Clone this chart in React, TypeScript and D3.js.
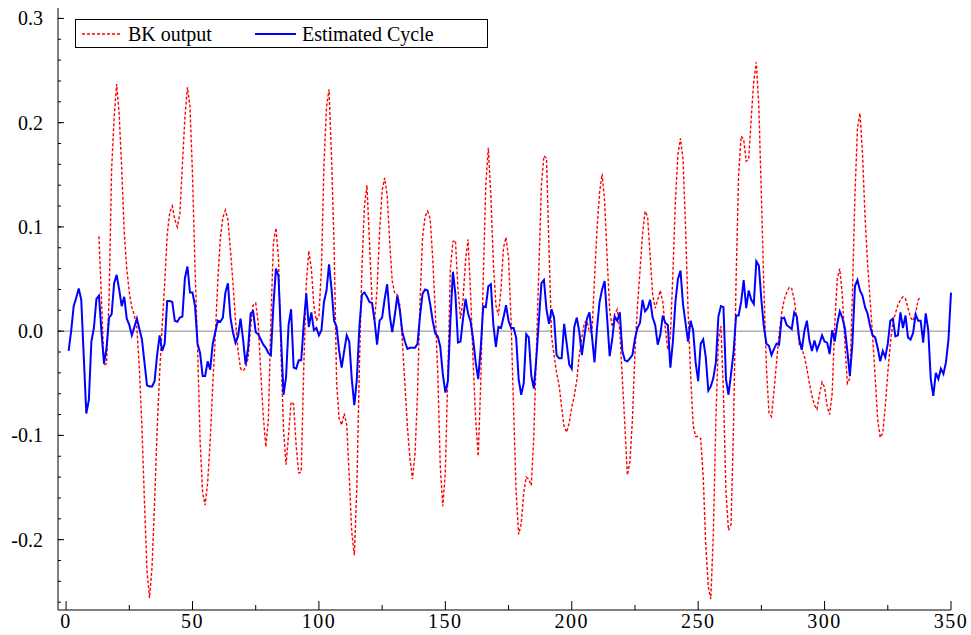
import React from "react";
import * as d3 from "d3";

// Estimated cycle: one value per period, starting at period 1
const cycleStart = 1;
const estimatedCycle = [
  -0.019, 0.000, 0.024, 0.032, 0.041, 0.030, -0.025, -0.079, -0.066, -0.010,
  0.003, 0.031, 0.034, -0.001, -0.031, -0.016, 0.013, 0.016, 0.046, 0.054,
  0.040, 0.024, 0.033, 0.012, 0.006, -0.004, 0.004, 0.012, 0.002, -0.008,
  -0.030, -0.052, -0.053, -0.053,
  -0.048, -0.023, -0.004, -0.019, -0.012, 0.029, 0.029, 0.028, 0.010, 0.009,
  0.013, 0.014, 0.051, 0.062, 0.037, 0.037, 0.024, -0.012, -0.021, -0.043,
  -0.043, -0.029, -0.037, -0.012, -0.001, 0.010, 0.009, 0.013, 0.037, 0.046,
  0.013, -0.001, -0.011, -0.005, 0.012,
  -0.008, -0.032, -0.016, 0.017, 0.019, -0.001, -0.003, -0.008, -0.013, -0.016,
  -0.021, -0.023, 0.025, 0.060, 0.053, -0.005, -0.061, -0.044, 0.006, 0.021,
  -0.035, -0.036, -0.028, -0.028, 0.007, 0.036, 0.004, 0.018, 0.001, 0.003,
  -0.004, 0.001, 0.028, 0.039, 0.064, 0.040,
  0.010, 0.004, -0.019, -0.035, -0.019, -0.004, -0.010, -0.046, -0.071, -0.046,
  0.004, 0.035, 0.037, 0.033, 0.028, 0.027, 0.010, -0.013, 0.010, 0.013,
  0.031, 0.045, 0.015, -0.001, 0.015, 0.034, 0.020, -0.001, -0.010, -0.017,
  -0.016, -0.016, -0.016, -0.012, 0.015, 0.036,
  0.040, 0.039, 0.026, 0.010, -0.002, -0.005, -0.015, -0.041, -0.059, -0.048,
  0.010, 0.057, 0.035, -0.011, -0.010, 0.012, 0.031, 0.017, 0.009, -0.008,
  -0.030, -0.046, -0.016, 0.024, 0.023, 0.043, 0.045, 0.006, -0.015, 0.004,
  0.003, 0.013, 0.025, 0.010, 0.003,
  0.003, -0.006, -0.046, -0.061, -0.050, -0.003, -0.006, -0.043, -0.055, -0.026,
  0.010, 0.046, 0.049, 0.021, 0.007, 0.021, 0.013, -0.023, -0.026, -0.026,
  0.007, -0.012, -0.032, -0.036, 0.004, 0.013, -0.001, -0.023, -0.005, 0.012,
  0.018, -0.005, -0.030, 0.003, 0.028, 0.040,
  0.048, 0.012, -0.024, -0.008, 0.014, 0.010, 0.018, -0.019, -0.028, -0.029,
  -0.026, -0.023, -0.007, 0.003, 0.008, 0.030, 0.019, 0.022, 0.030, 0.013,
  0.006, -0.013, -0.004, 0.015, 0.008, 0.006, -0.035, -0.010, 0.028, 0.050,
  0.058, 0.026, 0.008, -0.010, 0.010,
  0.001, -0.030, -0.048, -0.012, -0.008, -0.025, -0.057, -0.053, -0.045, -0.030,
  0.014, 0.024, 0.023, -0.046, -0.061, -0.041, -0.020, 0.015, 0.015, 0.028,
  0.049, 0.022, 0.039, 0.030, 0.026, 0.067, 0.063, 0.030, 0.004, -0.012,
  -0.014, -0.023, -0.017, -0.012, -0.013, 0.012,
  0.013, 0.006, 0.004, 0.002, 0.018, 0.014, -0.008, -0.018, 0.000, 0.010,
  -0.009, -0.019, -0.009, -0.018, -0.012, -0.004, -0.010, -0.011, -0.022, 0.001,
  -0.010, 0.007, 0.019, 0.013, 0.003, -0.019, -0.043, -0.012, 0.043, 0.049,
  0.039, 0.034, 0.023, 0.017, 0.005, -0.004,
  -0.006, -0.016, -0.029, -0.019, -0.025, -0.012, 0.010, 0.012, -0.005, -0.004,
  0.018, 0.003, 0.015, -0.006, -0.008, -0.002, 0.016, 0.010, 0.010, -0.011,
  0.017, 0.001, -0.046, -0.062, -0.040, -0.046, -0.036, -0.041, -0.030, -0.008,
  0.037,
];

// Baxter-King filter output: 12 periods lost at each end
const bkStart = 13;
const bkOutput = [
  0.091, 0.030, -0.033, -0.031, 0.030, 0.155, 0.205, 0.237, 0.208, 0.156,
  0.095, 0.060, 0.037, 0.023, 0.015, 0.003, -0.037, -0.092, -0.164, -0.230,
  -0.256, -0.226,
  -0.165, -0.095, -0.040, 0.005, 0.046, 0.093, 0.114, 0.120, 0.107, 0.100,
  0.113, 0.160, 0.205, 0.234, 0.215, 0.150, 0.060, -0.015, -0.105, -0.155,
  -0.167, -0.145, -0.105, -0.052, -0.005, 0.048, 0.089, 0.109, 0.116, 0.107,
  0.078, 0.046, 0.010, -0.019, -0.036,
  -0.038, -0.035, -0.026, 0.005, 0.025, 0.027, 0.008, -0.040, -0.082, -0.111,
  -0.085, 0.010, 0.085, 0.099, 0.070, -0.020, -0.095, -0.128, -0.099, -0.068,
  -0.070, -0.110, -0.136, -0.135, -0.035, 0.046, 0.077, 0.060, 0.025, 0.010,
  0.015, 0.060, 0.160, 0.215, 0.232, 0.165,
  0.082, -0.050, -0.084, -0.090, -0.079, -0.090, -0.140, -0.193, -0.215, -0.150,
  -0.035, 0.060, 0.120, 0.140, 0.085, 0.030, 0.010, 0.040, 0.095, 0.135,
  0.147, 0.130, 0.085, 0.048, 0.036, 0.035, 0.025, -0.010, -0.050, -0.092,
  -0.122, -0.142, -0.118, -0.060, 0.030, 0.090,
  0.110, 0.115, 0.108, 0.070, 0.020, -0.040, -0.130, -0.168, -0.135, -0.040,
  0.060, 0.086, 0.087, 0.040, 0.012, 0.030, 0.068, 0.088, 0.035, -0.030,
  -0.085, -0.120, -0.050, 0.050, 0.140, 0.176, 0.130, 0.065, 0.025, 0.015,
  0.040, 0.080, 0.090, 0.070, 0.010,
  -0.075, -0.155, -0.195, -0.185, -0.155, -0.140, -0.142, -0.148, -0.100, -0.020,
  0.060, 0.140, 0.168, 0.166, 0.080, -0.005, -0.023, -0.040, -0.052, -0.073,
  -0.092, -0.097, -0.088, -0.073, -0.062, -0.047, -0.022, -0.006, 0.008, 0.010,
  -0.001, 0.000, 0.050, 0.098, 0.133, 0.151,
  0.125, 0.070, 0.020, 0.004, 0.017, 0.021, 0.000, -0.045, -0.090, -0.138,
  -0.125, -0.085, -0.020, 0.025, 0.058, 0.093, 0.115, 0.110, 0.072, 0.035,
  0.022, 0.030, 0.039, 0.028, 0.003, -0.018, -0.005, 0.055, 0.125, 0.170,
  0.185, 0.165, 0.100, 0.020, -0.041,
  -0.090, -0.101, -0.101, -0.103, -0.140, -0.205, -0.245, -0.257, -0.195, -0.085,
  -0.008, 0.005, -0.060, -0.155, -0.191, -0.185, -0.090, 0.050, 0.150, 0.187,
  0.184, 0.163, 0.165, 0.205, 0.240, 0.258, 0.215, 0.130, 0.040, -0.035,
  -0.078, -0.082, -0.057, -0.030, -0.003, 0.017,
  0.030, 0.037, 0.042, 0.041, 0.030, 0.012, -0.013, -0.017, -0.024, -0.036,
  -0.050, -0.062, -0.071, -0.075, -0.060, -0.049, -0.054, -0.072, -0.080, -0.060,
  0.005, 0.050, 0.060, 0.035, -0.010, -0.050, -0.045, 0.035, 0.130, 0.195,
  0.209, 0.170, 0.110, 0.065, 0.030, -0.005,
  -0.044, -0.085, -0.102, -0.098, -0.072, -0.040, -0.012, 0.008, 0.017, 0.025,
  0.030, 0.033, 0.031, 0.022, 0.013, 0.010, 0.017, 0.030, 0.033,
];

const xMajorTicks = [0, 50, 100, 150, 200, 250, 300, 350];
const xMinorTicks = [25, 75, 125, 175, 225, 275, 325];
const yMajorTicks = [-0.2, -0.1, 0.0, 0.1, 0.2, 0.3];
const yMajorLabels = ["-0.2", "-0.1", "0.0", "0.1", "0.2", "0.3"];
const yMinorTicks = d3.range(-26, 31, 2).map((v) => v / 100);

const seriesNames = ["BK output", "Estimated Cycle"];

const W = 971;
const H = 635;
const FONT = "'Liberation Serif', 'Times New Roman', serif";

export default function App() {
  const x = d3.scaleLinear().domain([-3.2, 350]).range([58, 951]);
  const y = d3.scaleLinear().domain([-0.2675, 0.31]).range([610, 8]);

  const cyclePts: [number, number][] = estimatedCycle.map((v, i) => [cycleStart + i, v]);
  const bkPts: [number, number][] = bkOutput.map((v, i) => [bkStart + i, v]);

  const line = d3
    .line<[number, number]>()
    .x((d) => x(d[0]))
    .y((d) => y(d[1]));

  const [x0, x1] = x.range();
  const [yb, yt] = y.range();

  return (
    <svg
      width={W}
      height={H}
      viewBox={`0 0 ${W} ${H}`}
      style={{ position: "absolute", left: 0, top: 0, background: "#fff" }}
    >
      {/* zero reference line */}
      <line x1={x0} x2={x1} y1={y(0)} y2={y(0)} stroke="#8a8a8a" strokeWidth={1} />

      <path
        d={line(bkPts) || ""}
        fill="none"
        stroke="#ff0000"
        strokeWidth={1.4}
        strokeDasharray="3 2"
      />
      <path d={line(cyclePts) || ""} fill="none" stroke="#0000ff" strokeWidth={2} />

      {/* axes */}
      <line x1={x0} x2={x0} y1={yt} y2={yb} stroke="#000" strokeWidth={1} />
      <line x1={x0} x2={x1} y1={yb} y2={yb} stroke="#000" strokeWidth={1} />

      {yMinorTicks.map((t) => (
        <line key={"ym" + t} x1={x0} x2={x0 + 3} y1={y(t)} y2={y(t)} stroke="#000" />
      ))}
      {yMajorTicks.map((t) => (
        <line key={"yM" + t} x1={x0} x2={x0 + 6} y1={y(t)} y2={y(t)} stroke="#000" />
      ))}
      {yMajorTicks.map((t, i) => (
        <text
          key={"yl" + t}
          x={43}
          y={y(t) + 7}
          textAnchor="end"
          fontFamily={FONT}
          fontSize={20}
          fill="#000"
        >
          {yMajorLabels[i]}
        </text>
      ))}

      {xMinorTicks.map((t) => (
        <line key={"xm" + t} x1={x(t)} x2={x(t)} y1={yb} y2={yb - 5} stroke="#000" />
      ))}
      {xMajorTicks.map((t) => (
        <line key={"xM" + t} x1={x(t)} x2={x(t)} y1={yb} y2={yb - 9} stroke="#000" />
      ))}
      {xMajorTicks.map((t) => (
        <text
          key={"xl" + t}
          x={x(t)}
          y={628}
          textAnchor="middle"
          fontFamily={FONT}
          fontSize={20}
          letterSpacing={1.5}
          fill="#000"
        >
          {String(t)}
        </text>
      ))}

      {/* legend */}
      <g>
        <rect x={75.5} y={19.5} width={412} height={28} fill="#fff" stroke="#000" strokeWidth={1} />
        <line x1={82} x2={120} y1={34} y2={34} stroke="#ff0000" strokeWidth={1.4} strokeDasharray="3 2" />
        <text x={128} y={41} fontFamily={FONT} fontSize={20} fill="#000">
          {seriesNames[0]}
        </text>
        <line x1={255} x2={296} y1={34} y2={34} stroke="#0000ff" strokeWidth={2} />
        <text x={302} y={41} fontFamily={FONT} fontSize={20} fill="#000">
          {seriesNames[1]}
        </text>
      </g>
    </svg>
  );
}
